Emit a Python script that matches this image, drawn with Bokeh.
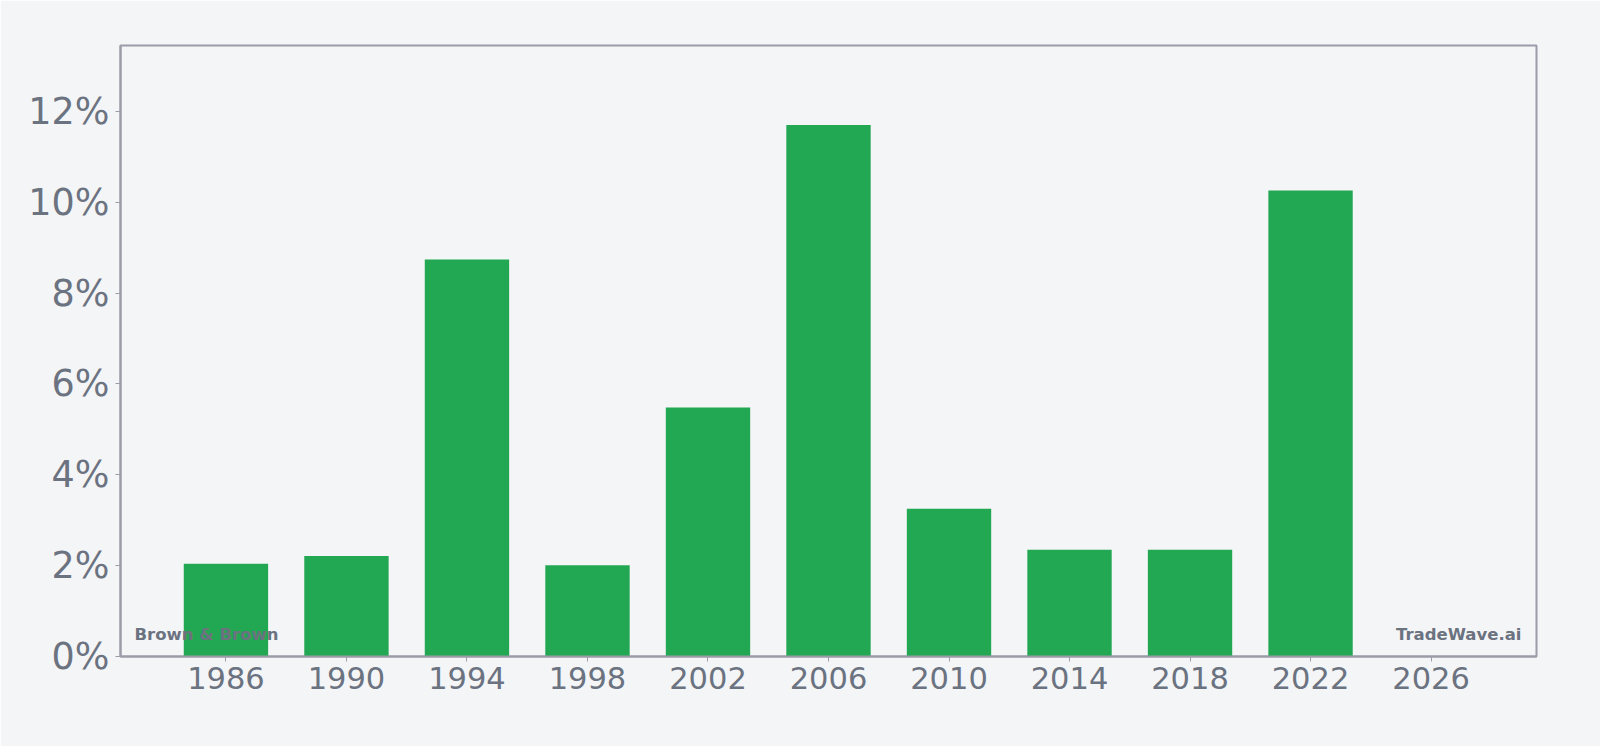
from bokeh.plotting import figure
from bokeh.models import FixedTicker, PrintfTickFormatter, Label, Range1d
from bokeh.embed import file_html
from bokeh.resources import INLINE

years = [1986, 1990, 1994, 1998, 2002, 2006, 2010, 2014, 2018, 2022]
growth_pct = [2.04, 2.21, 8.74, 2.01, 5.48, 11.70, 3.25, 2.35, 2.35, 10.26]
x_ticks = [1986, 1990, 1994, 1998, 2002, 2006, 2010, 2014, 2018, 2022, 2026]
y_ticks = [0, 2, 4, 6, 8, 10, 12]

BG = "#f4f5f7"
TEXT = "#6b7280"
BORDER = "#9a9ca8"
GREEN = "#22a752"

x_start, x_end = 1982.5, 2029.5
p = figure(width=1600, height=746, output_backend="svg", toolbar_location=None,
           x_range=Range1d(x_start, x_end), y_range=Range1d(0, 13.45),
           min_border_left=120, min_border_right=64, min_border_top=45, min_border_bottom=90)
p.background_fill_color = BG
p.border_fill_color = BG
p.outline_line_color = BORDER
p.outline_line_width = 2
p.xgrid.visible = False
p.ygrid.visible = False

p.vbar(x=years, top=growth_pct, width=2.8, color=GREEN, line_color=None)

for ax in (p.xaxis[0], p.yaxis[0]):
    ax.axis_line_color = BORDER
    ax.axis_line_width = 2
    ax.major_tick_line_color = BORDER
    ax.major_tick_line_width = 1
    ax.major_tick_out = 5
    ax.major_tick_in = 0
    ax.minor_tick_line_color = None
    ax.major_label_text_color = TEXT
    ax.major_label_text_font = "DejaVu Sans"

p.xaxis.ticker = FixedTicker(ticks=x_ticks)
p.xaxis.major_label_text_font_size = "30.5px"
p.xaxis.major_label_standoff = 5
p.yaxis.ticker = FixedTicker(ticks=y_ticks)
p.yaxis.formatter = PrintfTickFormatter(format="%d%%")
p.yaxis.major_label_text_font_size = "36.5px"
p.yaxis.major_label_standoff = 6

for txt, x, xo, align in (("Brown & Brown", x_start, 14, "left"), ("TradeWave.ai", x_end, -15, "right")):
    p.add_layout(Label(x=x, y=0, x_offset=xo, y_offset=22, text=txt, text_align=align,
                       text_baseline="alphabetic", text_font="DejaVu Sans", text_font_style="bold",
                       text_font_size="16.5px", text_color=TEXT))

open("out.html", "w").write(file_html(p, INLINE))
